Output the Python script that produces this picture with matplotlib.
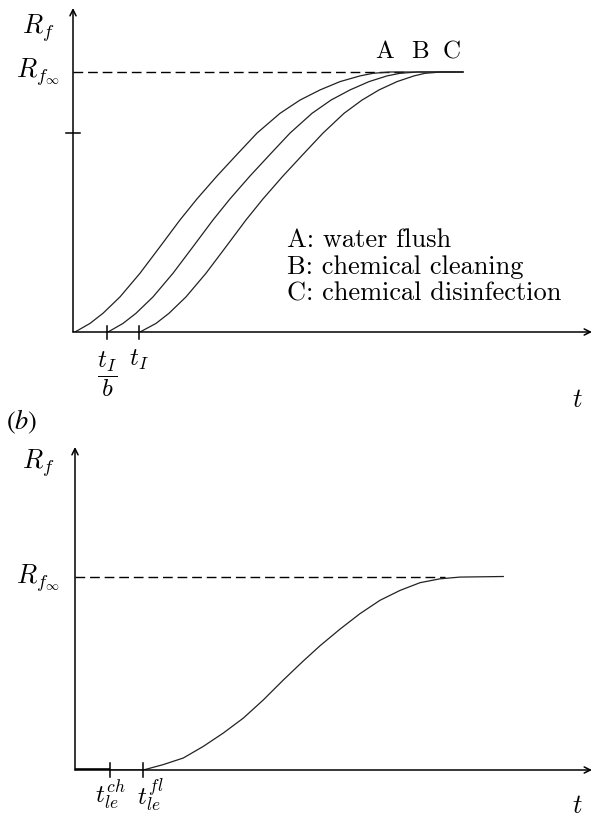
import matplotlib.pyplot as plt

plt.rcParams['mathtext.fontset'] = 'cm'

# top panel: three fouling curves (t, Rf / Rf_inf)
rABC = [0.0, 0.033, 0.072, 0.135, 0.226, 0.328, 0.431, 0.512, 0.600, 0.683,
        0.765, 0.841, 0.892, 0.931, 0.963, 0.985, 0.995, 1.0, 1.0]
tA = [0.02, 0.17, 0.30, 0.47, 0.67, 0.87, 1.07, 1.24, 1.44, 1.64,
      1.84, 2.07, 2.27, 2.47, 2.67, 2.87, 3.00, 3.17, 3.90]
tB = [0.35, 0.50, 0.63, 0.80, 1.00, 1.20, 1.40, 1.57, 1.77, 1.97,
      2.17, 2.39, 2.58, 2.77, 2.96, 3.14, 3.27, 3.45, 3.90]
tC = [0.67, 0.83, 0.96, 1.13, 1.33, 1.53, 1.73, 1.90, 2.10, 2.30,
      2.50, 2.71, 2.89, 3.06, 3.24, 3.41, 3.52, 3.68, 3.90]
top_ticks = [0.34, 0.66]
legend_lines = ["A: water flush", "B: chemical cleaning", "C: chemical disinfection"]
curve_names = ["A", "B", "C"]
curve_name_t = [3.12, 3.47, 3.79]

# bottom panel
tD = [0.0, 0.683, 0.883, 1.083, 1.283, 1.483, 1.683, 1.883, 2.083, 2.28,
      2.45, 2.65, 2.85, 3.05, 3.25, 3.45, 3.65, 3.85, 4.283]
rD = [0.0, 0.0, 0.028, 0.062, 0.122, 0.191, 0.268, 0.362, 0.465, 0.562,
      0.642, 0.728, 0.808, 0.877, 0.928, 0.968, 0.988, 0.997, 1.0]
bot_ticks = [0.35, 0.68]

W, H = 595, 821
fig = plt.figure(figsize=(W / 100, H / 100), dpi=100)

def make_ax(x0, y0, x1, y1, sx, sy):
    ax = fig.add_axes([x0 / W, 1 - y0 / H, (x1 - x0) / W, (y0 - y1) / H])
    ax.set_xlim(0, (x1 - x0) / sx)
    ax.set_ylim(0, (y0 - y1) / sy)
    ax.axis('off')
    return ax

def arrows(ax):
    xm, ym = ax.get_xlim()[1], ax.get_ylim()[1]
    ap = dict(arrowstyle='->', lw=1.1, color='black', shrinkA=0, shrinkB=0, mutation_scale=11)
    ax.annotate('', xy=(xm, 0), xytext=(0, 0), arrowprops=ap, annotation_clip=False)
    ax.annotate('', xy=(0, ym), xytext=(0, 0), arrowprops=ap, annotation_clip=False)

fs = 19
ms = 19
lc = '#222222'

# ---- top ----
ax = make_ax(73, 332, 592, 8, 100, 260)
arrows(ax)
ax.plot([0, 3.35], [1, 1], color='black', lw=1.0, dashes=(7, 3.5))
for t in [tA, tB, tC]:
    ax.plot(t, rABC, color=lc, lw=0.9, solid_joinstyle='round')
ax.plot([-0.07, 0.07], [0.765, 0.765], color='black', lw=1.1, clip_on=False)
for t in top_ticks:
    ax.plot([t, t], [-0.025, 0.025], color='black', lw=1.1, clip_on=False)
for n, t in zip(curve_names, curve_name_t):
    ax.text(t, 1.077, n, family='cmr10', fontsize=18, ha='center', va='center')
for i, s in enumerate(legend_lines):
    ax.text(2.14, 0.354 - i * 0.104, s, family='cmr10', fontsize=fs, ha='left', va='center')
ax.text(-0.35, 1.169, r'$R_f$', fontsize=ms, ha='center', va='center')
ax.text(-0.35, 1.0, r'$R_{f_\infty}$', fontsize=ms, ha='center', va='center')
ax.text(5.04, -0.262, r'$t$', fontsize=ms, ha='center', va='center')
ax.text(top_ticks[0], -0.165, r'$\dfrac{t_I}{b}$', fontsize=ms - 1, ha='center', va='center')
ax.text(top_ticks[1], -0.108, r'$t_I$', fontsize=ms - 1, ha='center', va='center')

fig.text(22 / W, 1 - 422 / H, r'$\mathrm{(}b\mathrm{)}$', math_fontfamily='stix',
         fontsize=ms, ha='center', va='center')

# ---- bottom ----
ax2 = make_ax(75, 770, 592, 447, 100, 193.5)
arrows(ax2)
ax2.plot([0, 3.7], [1, 1], color='black', lw=1.0, dashes=(7, 3.5))
ax2.plot(tD, rD, color=lc, lw=0.9, solid_joinstyle='round')
ax2.plot([0, bot_ticks[0]], [0, 0], color='black', lw=2.6, solid_capstyle='butt')
for t in bot_ticks:
    ax2.plot([t, t], [-0.035, 0.035], color='black', lw=1.1, clip_on=False)
ax2.text(-0.37, 1.586, r'$R_f$', fontsize=ms, ha='center', va='center')
ax2.text(-0.37, 0.99, r'$R_{f_\infty}$', fontsize=ms, ha='center', va='center')
ax2.text(5.02, -0.185, r'$t$', fontsize=ms, ha='center', va='center')
ax2.text(bot_ticks[0], -0.13, r'$t_{le}^{ch}$', fontsize=ms - 1, ha='center', va='center')
ax2.text(bot_ticks[1] + 0.07, -0.13, r'$t_{le}^{fl}$', fontsize=ms - 1, ha='center', va='center')

fig.savefig('out.png', dpi=100)
